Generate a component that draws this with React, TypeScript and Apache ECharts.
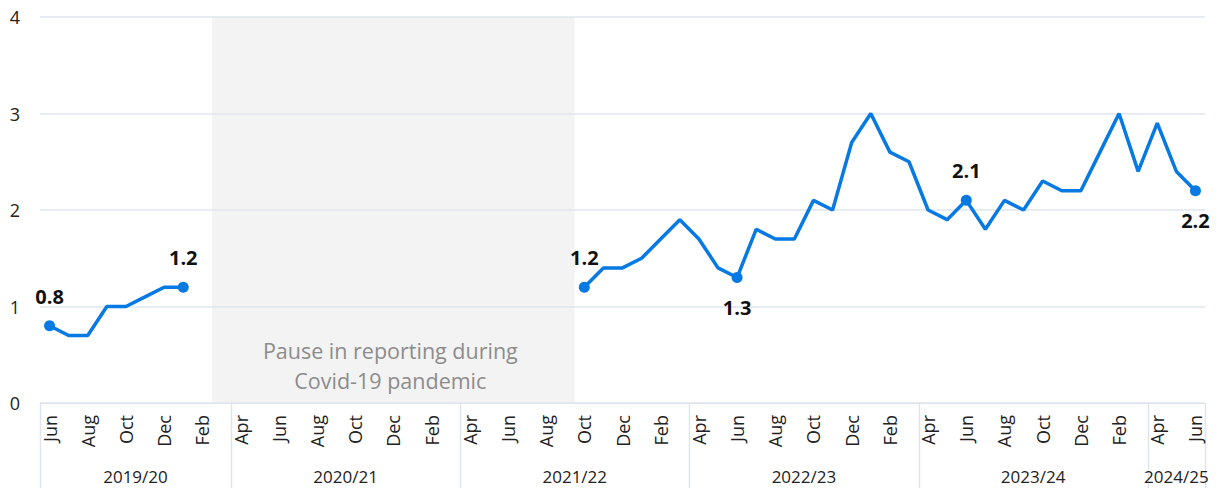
import { useEffect, useRef } from 'react';
import * as echarts from 'echarts';

const categories = [
  'Jun 2019', 'Jul 2019', 'Aug 2019', 'Sep 2019', 'Oct 2019', 'Nov 2019', 'Dec 2019', 'Jan 2020', 'Feb 2020', 'Mar 2020',
  'Apr 2020', 'May 2020', 'Jun 2020', 'Jul 2020', 'Aug 2020', 'Sep 2020', 'Oct 2020', 'Nov 2020', 'Dec 2020', 'Jan 2021', 'Feb 2021', 'Mar 2021',
  'Apr 2021', 'May 2021', 'Jun 2021', 'Jul 2021', 'Aug 2021', 'Sep 2021', 'Oct 2021', 'Nov 2021', 'Dec 2021', 'Jan 2022', 'Feb 2022', 'Mar 2022',
  'Apr 2022', 'May 2022', 'Jun 2022', 'Jul 2022', 'Aug 2022', 'Sep 2022', 'Oct 2022', 'Nov 2022', 'Dec 2022', 'Jan 2023', 'Feb 2023', 'Mar 2023',
  'Apr 2023', 'May 2023', 'Jun 2023', 'Jul 2023', 'Aug 2023', 'Sep 2023', 'Oct 2023', 'Nov 2023', 'Dec 2023', 'Jan 2024', 'Feb 2024', 'Mar 2024',
  'Apr 2024', 'May 2024', 'Jun 2024',
];

const values: (number | null)[] = [
  0.8, 0.7, 0.7, 1.0, 1.0, 1.1, 1.2, 1.2, null, null,
  null, null, null, null, null, null, null, null, null, null, null, null,
  null, null, null, null, null, null, 1.2, 1.4, 1.4, 1.5, 1.7, 1.9,
  1.7, 1.4, 1.3, 1.8, 1.7, 1.7, 2.1, 2.0, 2.7, 3.0, 2.6, 2.5,
  2.0, 1.9, 2.1, 1.8, 2.1, 2.0, 2.3, 2.2, 2.2, 2.6, 3.0, 2.4,
  2.9, 2.4, 2.2,
];

const labelledPoints: Record<string, 'top' | 'bottom'> = {
  'Jun 2019': 'top',
  'Jan 2020': 'top',
  'Oct 2021': 'top',
  'Jun 2022': 'bottom',
  'Jun 2023': 'top',
  'Jun 2024': 'bottom',
};

const fiscalYears = ['2019/20', '2020/21', '2021/22', '2022/23', '2023/24', '2024/25'];
const fiscalFirstMonth = ['Jun 2019', 'Apr 2020', 'Apr 2021', 'Apr 2022', 'Apr 2023', 'Apr 2024'];

const pauseFirstMonth = 'Mar 2020';
const pauseLastMonth = 'Sep 2021';
const pauseText = 'Pause in reporting during\nCovid-19 pandemic';

const yTicks = [0, 1, 2, 3, 4];

const FONT = "'Open Sans', 'Noto Sans', sans-serif";
const BLUE = '#0679e3';
const GRID = '#dfe4ee';

export default function App() {
  const ref = useRef<HTMLDivElement>(null);
  useEffect(() => {
    if (!ref.current) return;
    const chart = echarts.init(ref.current, null, { renderer: 'svg' });
    const data = values.map((v, i) => {
      const pos = labelledPoints[categories[i]];
      if (!pos) return { value: v };
      return {
        value: v,
        symbol: 'circle',
        symbolSize: 11,
        label: {
          show: true,
          position: pos,
          distance: 14,
          fontSize: 20,
          fontWeight: 'bold',
          color: '#111',
          fontFamily: FONT,
          formatter: (p: any) => Number(p.value).toFixed(1),
        },
      };
    });
    chart.setOption({
      animation: false,
      textStyle: { fontFamily: FONT },
      grid: { left: 40, right: 15, top: 17, bottom: 85, containLabel: false },
      xAxis: {
        type: 'category',
        data: categories,
        boundaryGap: true,
        axisLine: { show: true, lineStyle: { color: GRID, width: 1 } },
        axisTick: { show: false },
        axisLabel: {
          interval: 1,
          rotate: 90,
          margin: 12,
          fontSize: 18,
          color: '#222',
          formatter: (v: string) => v.slice(0, 3),
        },
      },
      yAxis: {
        type: 'value',
        min: yTicks[0],
        max: yTicks[yTicks.length - 1],
        interval: 1,
        axisLine: { show: false },
        axisTick: { show: false },
        axisLabel: { fontSize: 18, color: '#222', margin: 20 },
        splitLine: { lineStyle: { color: GRID, width: 1.5 } },
      },
      series: [
        {
          type: 'line',
          data,
          connectNulls: false,
          showSymbol: true,
          symbol: 'none',
          lineStyle: { color: BLUE, width: 3.5 },
          itemStyle: { color: BLUE },
          z: 5,
        },
      ],
    });

    const px = (c: string) => chart.convertToPixel({ xAxisIndex: 0 }, c) as number;
    const band = px(categories[1]) - px(categories[0]);
    const leftEdge = (c: string) => px(c) - band / 2;
    const rightEdge = (c: string) => px(c) + band / 2;
    const yTop = chart.convertToPixel({ yAxisIndex: 0 }, yTicks[yTicks.length - 1]) as number;
    const yBottom = chart.convertToPixel({ yAxisIndex: 0 }, yTicks[0]) as number;
    const endX = rightEdge(categories[categories.length - 1]);

    const pLeft = leftEdge(pauseFirstMonth);
    const pRight = rightEdge(pauseLastMonth);

    const elements: any[] = [
      {
        type: 'rect',
        z: -1,
        shape: { x: pLeft, y: yTop, width: pRight - pLeft, height: yBottom - yTop },
        style: { fill: 'rgba(0,0,0,0.048)' },
        silent: true,
      },
      {
        type: 'text',
        z: 1,
        x: (pLeft + pRight) / 2 - 3,
        y: 365,
        style: {
          text: pauseText,
          fontSize: 21.5,
          fontFamily: FONT,
          fill: '#8c8c8c',
          align: 'center',
          verticalAlign: 'middle',
          lineHeight: 30,
        },
        silent: true,
      },
    ];

    const edges = fiscalFirstMonth.map((m) => leftEdge(m));
    edges.push(endX);
    edges.forEach((x) => {
      elements.push({
        type: 'line',
        shape: { x1: Math.round(x) + 0.5, y1: yBottom, x2: Math.round(x) + 0.5, y2: 488 },
        style: { stroke: GRID, lineWidth: 1.5 },
        silent: true,
      });
    });
    fiscalYears.forEach((fy, i) => {
      elements.push({
        type: 'text',
        x: (edges[i] + edges[i + 1]) / 2,
        y: 476,
        style: {
          text: fy,
          fontSize: 17,
          fontFamily: FONT,
          fill: '#222',
          align: 'center',
          verticalAlign: 'middle',
        },
        silent: true,
      });
    });
    chart.setOption({ graphic: { elements } });

    return () => chart.dispose();
  }, []);
  return (
    <div
      ref={ref}
      style={{ position: 'fixed', left: 0, top: 0, width: 1220, height: 488, background: '#fff' }}
    />
  );
}
